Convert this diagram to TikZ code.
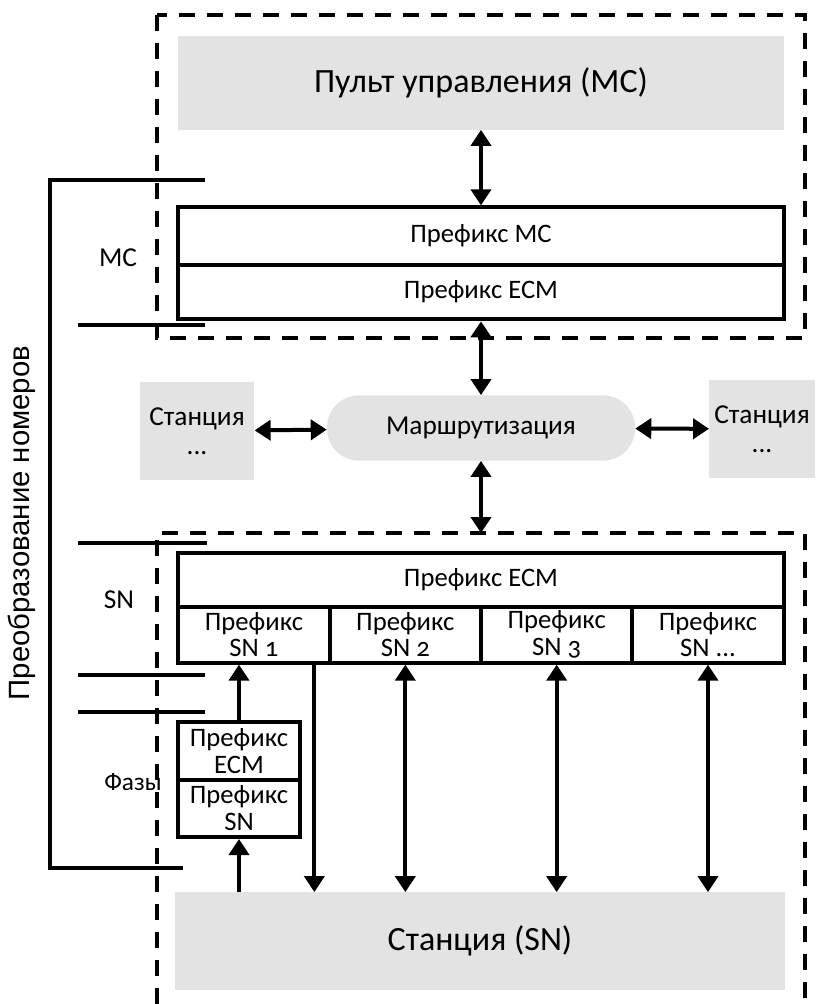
\documentclass[tikz,border=0pt]{standalone}
\usepackage{fontspec}
\setmainfont{Carlito}[Numbers=OldStyle]
\newfontfamily\sidefont{Liberation Sans}
\usetikzlibrary{arrows.meta,positioning,calc}

\begin{document}
\begin{tikzpicture}[
  x=0.75pt, y=-0.75pt,
  node distance = -3pt,
  greybox/.style = {fill=black!11, draw=none, font=\fontsize{25.5}{28}\selectfont, align=center},
  midbox/.style  = {greybox, font=\fontsize{20.5}{22}\selectfont},
  prefbox/.style = {draw, line width=3pt, fill=white, inner sep=1pt,
                    font=\fontsize{20}{20}\selectfont, align=center},
  border/.style  = {line width=3pt, dash pattern=on 12pt off 9pt},
  tickline/.style = {line width=3pt},
  side/.style    = {font=\fontsize{20.5}{22}\selectfont},
  arrow/.style   = {-{Triangle[length=12pt,width=15pt]}, line width=3pt},
  dbl/.style     = {{Triangle[length=12pt,width=15pt]}-{Triangle[length=12pt,width=15pt]}, line width=3pt}
]
  \useasboundingbox (0,0) rectangle (815,1004);

  % dashed areas: MC and SN
  \draw[border] (157,15) rectangle (805,338);
  \draw[border] (157,1004) -- (157,533) -- (805,533) -- (805,1004);
  \coordinate (snTop) at (481,533);

  % MC part
  \node[greybox, minimum width=455pt, minimum height=70pt] (pult) at (481,83) {Пульт управления (MC)};
  \node[prefbox, minimum width=454pt, minimum height=43pt] (pfxMC) at (481,236) {Префикс MC};
  \node[prefbox, minimum width=454pt, minimum height=41pt, below=of pfxMC] (pfxECM) {Префикс ECM};

  % routing level
  \node[midbox, rounded corners=24pt, minimum width=231pt, minimum height=49pt] (route) at (481,428) {Маршрутизация};
  \node[midbox, minimum width=86pt, minimum height=73pt] (stL) at (197,431) {Станция\\...};
  \node[midbox, minimum width=79pt, minimum height=73pt] (stR) at (762,429) {Станция\\...};

  % SN part
  \node[prefbox, minimum width=454pt, minimum height=40pt] (snECM) at (481,580) {Префикс ECM};
  \node[prefbox, minimum width=113.5pt, minimum height=42pt, below=of snECM.south west, anchor=north west] (sn1) {Префикс\\SN 1};
  \node[prefbox, minimum width=113.5pt, minimum height=42pt, right=of sn1] (sn2) {Префикс\\SN 2};
  \node[prefbox, minimum width=113.5pt, minimum height=42pt, right=of sn2] (sn3) {Префикс\\SN 3};
  \node[prefbox, minimum width=113.5pt, minimum height=42pt, right=of sn3] (sn4) {Префикс\\SN ...};

  \node[prefbox, minimum width=91pt, minimum height=43pt] (phECM) at (239,751) {Префикс\\ECM};
  \node[prefbox, minimum width=91pt, minimum height=43pt, below=of phECM] (phSN) {Префикс\\SN};

  \node[greybox, minimum width=457pt, minimum height=73pt] (station) at (480,941) {Станция (SN)};

  % number conversion bracket
  \draw[tickline] (205,180) -- (50,180) -- (50,868) -- (183,868);
  \foreach \y/\a/\b in {325/78/205, 543/78/207, 675/78/205, 712/78/205}
    \draw[tickline] (\a,\y) -- (\b,\y);
  \node[side] (lMC) at (118,258) {MC};
  \node[side] (lSN) at (119,600) {SN};
  \node[side, font=\fontsize{19}{21}\selectfont] (lPh) at (133,782) {Фазы};
  \node[font=\sidefont\fontsize{22}{24}\selectfont, rotate=90] (conv) at (22,523) {Преобразование номеров};

  % connections
  \draw[dbl] (pult) -- (pfxMC);
  \draw[dbl] (pfxECM) -- (route);
  \draw[dbl] (route) -- (snTop);
  \draw[dbl] (stL) -- (route);
  \draw[dbl] (route) -- (stR);
  \draw[arrow] (phECM.north) -- (phECM.north |- sn1.south);
  \draw[arrow] (phSN.south |- station.north) -- (phSN.south);
  \draw[arrow] ([xshift=-13]sn1.south east) -- ([xshift=-13]sn1.south east |- station.north);
  \foreach \s in {sn2,sn3,sn4}
    \draw[dbl] (\s.south) -- (\s.south |- station.north);
\end{tikzpicture}
\end{document}
